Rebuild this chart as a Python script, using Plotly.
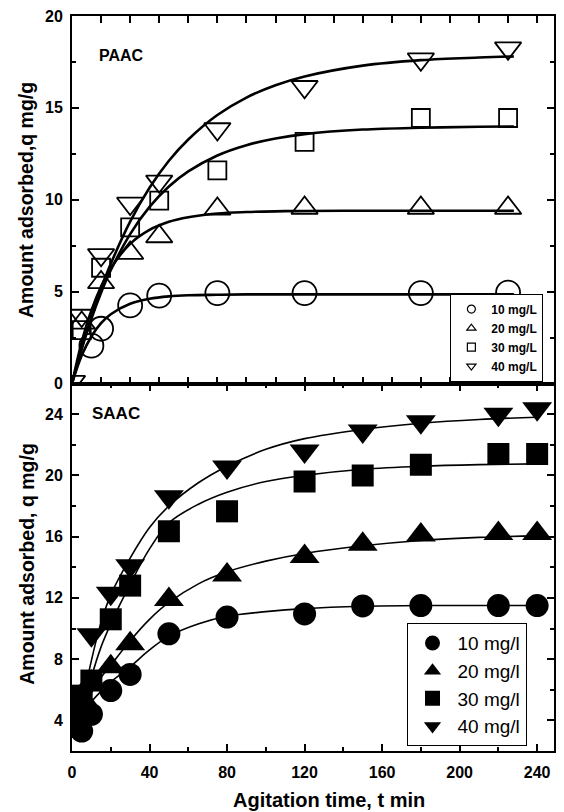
import plotly.graph_objects as go

# ---------------- DATA ----------------
# Top panel: PAAC, open symbols
paac_t = [0, 5, 10, 15, 30, 45, 75, 120, 180, 225]
paac_10 = [None, None, 2.06, 2.98, 4.25, 4.78, 4.92, 4.92, 4.92, 4.95]
paac_20 = [None, 3.3, None, 5.5, 7.1, 8.0, 9.5, 9.55, 9.55, 9.55]
paac_30 = [None, 2.9, None, 6.3, 8.5, 9.95, 11.6, 13.15, 14.45, 14.45]
paac_40 = [0.1, 3.7, None, 7.0, 9.8, 11.0, 13.85, 16.15, 17.65, 18.25]

# fitted curves
paac_fit_t = [0, 5, 10, 15, 20, 30, 40, 50, 60, 75, 90, 105, 120, 150, 180, 210, 228]
paac_fit_10 = [0, 1.52, 2.56, 3.28, 3.77, 4.34, 4.61, 4.74, 4.80, 4.83, 4.85, 4.85, 4.85, 4.85, 4.85, 4.85, 4.85]
paac_fit_20 = [0, 2.26, 3.98, 5.28, 6.27, 7.60, 8.36, 8.80, 9.05, 9.25, 9.33, 9.37, 9.39, 9.40, 9.40, 9.40, 9.40]
paac_fit_30 = [0, 1.89, 3.52, 4.94, 6.16, 8.13, 9.61, 10.72, 11.54, 12.41, 12.97, 13.33, 13.57, 13.82, 13.92, 13.97, 13.99]
paac_fit_40 = [0, 1.91, 3.62, 5.15, 6.51, 8.81, 10.65, 12.12, 13.28, 14.61, 15.56, 16.23, 16.71, 17.30, 17.60, 17.74, 17.80]

# Bottom panel: SAAC, filled symbols
saac_t = [2, 5, 10, 20, 30, 50, 80, 120, 150, 180, 220, 240]
saac_10 = [3.9, 3.3, 4.4, 5.95, 7.0, 9.65, 10.75, 10.95, 11.47, 11.5, 11.5, 11.5]
saac_20 = [4.8, 5.5, 6.5, 7.5, 9.0, 11.9, 13.5, 14.7, 15.5, 16.1, 16.2, 16.2]
saac_30 = [5.3, 5.6, 6.6, 10.6, 12.8, 16.35, 17.65, 19.6, 20.0, 20.7, 21.4, 21.4]
saac_40 = [5.5, 5.9, 9.6, 12.3, 14.1, 18.6, 20.55, 21.6, 22.9, 23.5, 24.0, 24.35]

saac_fit_t = [3, 5, 10, 15, 20, 30, 40, 50, 65, 80, 100, 120, 150, 180, 210, 240]
saac_fit_10 = [3.0, 4.0, 5.2, 5.9, 6.5, 7.5, 8.6, 9.5, 10.3, 10.8, 11.1, 11.3, 11.45, 11.5, 11.5, 11.5]
saac_fit_20 = [3.0, 4.4, 5.8, 6.8, 7.6, 9.2, 10.6, 11.7, 12.9, 13.7, 14.4, 14.9, 15.4, 15.75, 15.95, 16.05]
saac_fit_30 = [3.0, 4.3, 6.8, 8.8, 10.3, 12.9, 15.2, 16.9, 18.1, 18.9, 19.6, 20.0, 20.4, 20.6, 20.7, 20.75]
saac_fit_40 = [3.0, 4.8, 7.9, 10.4, 12.2, 14.6, 16.6, 18.0, 19.5, 20.6, 21.7, 22.4, 23.0, 23.4, 23.65, 23.8]

paac_names = ["10 mg/L", "20 mg/L", "30 mg/L", "40 mg/L"]
saac_names = ["10 mg/l", "20 mg/l", "30 mg/l", "40 mg/l"]

# ---------------- FIGURE ----------------
FONT = "Liberation Sans"
fig = go.Figure()

open_syms = ["circle-open", "triangle-up-open", "square-open", "triangle-down-open"]
open_sizes = [24, 23, 18, 23]
fill_syms = ["circle", "triangle-up", "square", "triangle-down"]
fill_sizes = [23, 26, 22, 26]

# top fits
for fy in [paac_fit_10, paac_fit_20, paac_fit_30, paac_fit_40]:
    fig.add_trace(go.Scatter(x=paac_fit_t, y=fy, mode="lines", line=dict(color="black", width=2.6, shape="spline", smoothing=1.0),
                             xaxis="x", yaxis="y", showlegend=False, hoverinfo="skip"))
for vals, sym, sz in zip([paac_10, paac_20, paac_30, paac_40], open_syms, open_sizes):
    fig.add_trace(go.Scatter(x=paac_t, y=vals, mode="markers",
                             marker=dict(symbol=sym, size=sz, color="black", line=dict(width=1.8, color="black")),
                             xaxis="x", yaxis="y", showlegend=False, cliponaxis=True))
for name, sym in zip(paac_names, open_syms):
    fig.add_trace(go.Scatter(x=[None], y=[None], mode="markers", name=name,
                             marker=dict(symbol=sym, size=8, color="black", line=dict(width=1.2, color="black")),
                             xaxis="x", yaxis="y", legend="legend"))

# bottom fits
for fy in [saac_fit_10, saac_fit_20, saac_fit_30, saac_fit_40]:
    fig.add_trace(go.Scatter(x=saac_fit_t, y=fy, mode="lines", line=dict(color="black", width=1.6, shape="spline", smoothing=1.0),
                             xaxis="x2", yaxis="y2", showlegend=False, hoverinfo="skip"))
for vals, sym, sz in zip([saac_10, saac_20, saac_30, saac_40], fill_syms, fill_sizes):
    fig.add_trace(go.Scatter(x=saac_t, y=vals, mode="markers",
                             marker=dict(symbol=sym, size=sz, color="black", line=dict(width=0)),
                             xaxis="x2", yaxis="y2", showlegend=False, cliponaxis=True))
for name, sym in zip(saac_names, fill_syms):
    fig.add_trace(go.Scatter(x=[None], y=[None], mode="markers", name=name,
                             marker=dict(symbol=sym, size=15, color="black"),
                             xaxis="x2", yaxis="y2", legend="legend2"))

tickfont = dict(family=FONT, size=16, color="black", weight="bold")
axcommon = dict(showline=True, linewidth=2, linecolor="black", mirror="ticks", ticks="inside",
                ticklen=7, tickwidth=2, tickcolor="black", showgrid=False, zeroline=False,
                tickfont=tickfont)

fig.update_layout(
    width=564, height=812,
    margin=dict(l=72, r=8, t=15, b=61),
    paper_bgcolor="white", plot_bgcolor="white",
    font=dict(family=FONT, color="black"),
    xaxis=dict(domain=[0, 1], anchor="y", range=[0, 248.7], dtick=15, tick0=0, showticklabels=False,
               **axcommon),
    yaxis=dict(domain=[0.5, 1], anchor="x", range=[0, 20], dtick=5, tick0=0,
               minor=dict(dtick=2.5, ticklen=4, tickwidth=2, ticks="inside", tickcolor="black"),
               ticklabelstandoff=4, **axcommon),
    xaxis2=dict(domain=[0, 1], anchor="y2", range=[0, 248.7], dtick=40, tick0=0,
                minor=dict(dtick=20, ticklen=4, tickwidth=2, ticks="inside", tickcolor="black"),
                ticklabelstandoff=6, **axcommon),
    yaxis2=dict(domain=[0, 0.5], anchor="x2", range=[2, 26], tickvals=[4, 8, 12, 16, 20, 24],
                minor=dict(dtick=2, tick0=0, ticklen=4, tickwidth=2, ticks="inside", tickcolor="black"),
                ticklabelstandoff=4, **axcommon),
    legend=dict(x=0.785, y=0.6223, xanchor="left", yanchor="top", bgcolor="white",
                bordercolor="black", borderwidth=1, itemwidth=30, tracegroupgap=0,
                font=dict(family=FONT, size=12, color="black", weight="bold")),
    legend2=dict(x=0.694, y=0.174, xanchor="left", yanchor="top", bgcolor="white",
                 bordercolor="black", borderwidth=1, itemwidth=40, tracegroupgap=0,
                 font=dict(family=FONT, size=19, color="black")),
    annotations=[
        dict(text="PAAC", x=12.8, y=17.83, xref="x", yref="y", xanchor="left", yanchor="middle",
             showarrow=False, font=dict(family=FONT, size=16, weight="bold", color="black")),
        dict(text="SAAC", x=9.25, y=24.03, xref="x2", yref="y2", xanchor="left", yanchor="middle",
             showarrow=False, font=dict(family=FONT, size=17, weight="bold", color="black")),
        dict(text="Amount adsorbed,q mg/g", x=-0.095, y=0.75, xref="paper", yref="paper", textangle=-90,
             xanchor="center", yanchor="middle", showarrow=False,
             font=dict(family=FONT, size=19.5, weight="bold", color="black")),
        dict(text="Amount adsorbed, q mg/g", x=-0.095, y=0.255, xref="paper", yref="paper", textangle=-90,
             xanchor="center", yanchor="middle", showarrow=False,
             font=dict(family=FONT, size=19.5, weight="bold", color="black")),
        dict(text="Agitation time, t min", x=0.533, y=-0.066, xref="paper", yref="paper",
             xanchor="center", yanchor="middle", showarrow=False,
             font=dict(family=FONT, size=20, weight="bold", color="black")),
    ],
)

fig.write_html("out.html")
